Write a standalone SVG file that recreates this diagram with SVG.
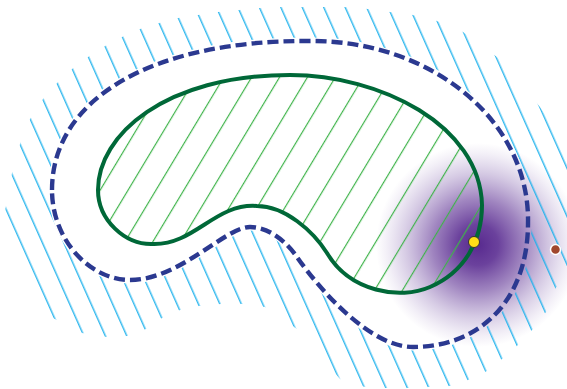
<svg xmlns="http://www.w3.org/2000/svg" width="567" height="389" viewBox="0 0 567 389">
  <style>
    .outer { fill: none; stroke: #2b3990; stroke-width: 4.4; stroke-dasharray: 11 5; }
    .inner { fill: none; stroke: #006838; stroke-width: 4; }
    .cyan { stroke: #1ab1ec; stroke-width: 1.3; }
    .lgreen { stroke: #3fb34a; stroke-width: 1.2; }
  </style>
  <defs>
    <path id="outerPath" d="M 52,190 C 52,100 150,40 310,41 C 430,40 530,120 528,223 C 528,300 480,347 413,347 C 370,347 320,290 297,257 C 285,240 268,227 250,227 C 225,227 180,280 130,280 C 90,280 52,240 52,190 Z"/>
    <path id="innerPath" d="M 98,190 C 98,135 165,75 290,75 C 380,75 480,125 482,205 C 482,240 465,272 430,287 C 400,300 350,292 327,253 C 313,231 285,206 257,206 C 215,203 195,245 153,244 C 125,245 98,220 98,190 Z"/>
    <pattern id="cyanHatch" patternUnits="userSpaceOnUse" width="19.6" height="100" patternTransform="rotate(-24)">
      <line class="cyan" x1="18.4" y1="0" x2="18.4" y2="100"/>
    </pattern>
    <pattern id="greenHatch" patternUnits="userSpaceOnUse" width="23.9" height="100" patternTransform="rotate(31)">
      <line class="lgreen" x1="16.5" y1="0" x2="16.5" y2="100"/>
    </pattern>
    <mask id="bandMask" maskUnits="userSpaceOnUse" x="0" y="0" width="567" height="389">
      <polygon fill="#fff" points="5,211 52,317.5 82,333 107,337 127,336 146,329 162,318 180,310 199,306 221,304 242,304 265,307 297,329 340,379 365,387 387,388 408,388 428,387 450,386 468,380 487,371 502,359 518,345 532,330 546,312 556,287 600,292 600,200 540,107 497,57 463,32 437,21 413,15 390,12 368,9 345,7 323,7 303,7 282,7 260,8 239,10 218,12 198,15 178,18 159,23 140,29 122,37 105,46 88,57 72,69 57,83 43,99 30,119 20,144 12,173"/>
      <use href="#outerPath" fill="#000" stroke="#000" stroke-width="7"/>
    </mask>
    <clipPath id="innerClip">
      <use href="#innerPath"/>
    </clipPath>
    <radialGradient id="purple" cx="478" cy="245" r="102" gradientUnits="userSpaceOnUse">
      <stop offset="0" stop-color="#582a8f" stop-opacity="1"/>
      <stop offset="0.2" stop-color="#5e3194" stop-opacity="0.92"/>
      <stop offset="0.45" stop-color="#6a409c" stop-opacity="0.64"/>
      <stop offset="0.7" stop-color="#7a56a8" stop-opacity="0.32"/>
      <stop offset="0.9" stop-color="#8a6bb5" stop-opacity="0.1"/>
      <stop offset="1" stop-color="#8a6bb5" stop-opacity="0"/>
    </radialGradient>
  </defs>
  <rect width="567" height="389" fill="#fff"/>
  <g id="purple-field">
    <circle cx="478" cy="245" r="102" fill="url(#purple)"/>
  </g>
  <g id="outer-hatch">
    <rect x="0" y="0" width="567" height="389" fill="url(#cyanHatch)" mask="url(#bandMask)"/>
  </g>
  <g id="inner-hatch">
    <rect x="0" y="0" width="567" height="389" fill="url(#greenHatch)" clip-path="url(#innerClip)"/>
  </g>
  <g id="outer-boundary">
    <use href="#outerPath" class="outer"/>
  </g>
  <g id="inner-region">
    <use href="#innerPath" class="inner"/>
  </g>
  <g id="point-yellow">
    <circle cx="474" cy="242" r="5.5" fill="#ffde17" stroke="#333" stroke-width="1"/>
  </g>
  <g id="point-brown">
    <circle cx="555.5" cy="249.5" r="5" fill="#a0472e" stroke="#fff" stroke-width="1.5"/>
  </g>
</svg>
